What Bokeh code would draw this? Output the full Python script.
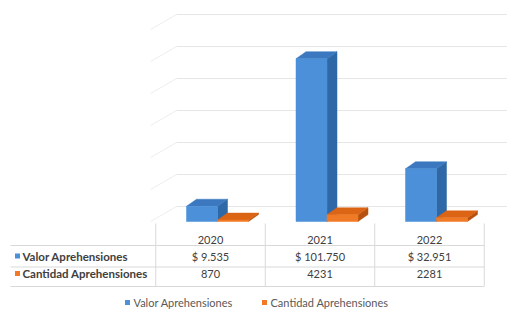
from bokeh.plotting import figure
from bokeh.models import Range1d
from bokeh.embed import file_html
from bokeh.resources import INLINE
from bokeh.core.properties import value

# ---- data ----
years = ["2020", "2021", "2022"]
valor = [9535, 101750, 32951]
cantidad = [870, 4231, 2281]
valor_labels = ["$ 9.535", "$ 101.750", "$ 32.951"]
cantidad_labels = ["870", "4231", "2281"]
series = ["Valor Aprehensiones", "Cantidad Aprehensiones"]
grid_ticks = [0, 20000, 40000, 60000, 80000, 100000, 120000]

# ---- styles ----
BLUE_FRONT, BLUE_SIDE, BLUE_TOP = "#4B90D8", "#2F68A6", "#3B78BF"
OR_FRONT, OR_SIDE, OR_TOP = "#F07A26", "#B5520F", "#DC6415"
FONT = "Lato"
TXT = "#404040"

W, H = 507, 313
OX, OY = 0, 0  # page offset of the canvas
px_per_cat = 109.5
px_per_unit = 0.0016
cx0 = 210  # page-x of first category centre
base_y = 221  # page-y of value 0 (front)

x_start = (OX - cx0) / px_per_cat
x_end = (OX + W - cx0) / px_per_cat
y_end = (base_y - OY) / px_per_unit
y_start = -(OY + H - base_y) / px_per_unit

p = figure(width=W, height=H, output_backend="svg", toolbar_location=None,
           x_range=Range1d(x_start, x_end), y_range=Range1d(y_start, y_end),
           min_border=0, outline_line_color=None)
p.axis.visible = False
p.grid.visible = False
p.background_fill_color = "white"
p.border_fill_color = "white"
p.extra_x_ranges = {"px": Range1d(OX, OX + W)}
p.extra_y_ranges = {"py": Range1d(OY + H, OY)}

# depth offsets
dx_bar = 10 / px_per_cat
dy_bar = 7 / px_per_unit
wall_dx = 26 / px_per_cat
wall_dy = 15 / px_per_unit
wall_left = (176 - cx0) / px_per_cat

# back-wall gridlines and side-wall lines
gy = [t + wall_dy for t in grid_ticks]
p.segment(x0=[wall_left] * len(gy), y0=gy, x1=[x_end] * len(gy), y1=gy,
          line_color="#E6E6E6", line_width=1)
p.segment(x0=[wall_left - wall_dx] * len(gy), y0=grid_ticks,
          x1=[wall_left] * len(gy), y1=gy, line_color="#EEEEEE", line_width=1)

# 3D bars
blue_l, blue_r = -24 / px_per_cat, 7 / px_per_cat
or_l, or_r = 7 / px_per_cat, 38 / px_per_cat


def bar3d(i, v, l, r, front, side, top):
    xl, xr = i + l, i + r
    p.patch([xr, xr + dx_bar, xr + dx_bar, xr], [0, dy_bar, v + dy_bar, v],
            fill_color=side, line_color=side, line_width=0.5)
    p.patch([xl, xr, xr + dx_bar, xl + dx_bar], [v, v, v + dy_bar, v + dy_bar],
            fill_color=top, line_color=top, line_width=0.5)
    p.quad(left=[xl], right=[xr], bottom=[0], top=[v],
           fill_color=front, line_color=front, line_width=0.5)


for i, v in enumerate(valor):
    bar3d(i, v, blue_l, blue_r, BLUE_FRONT, BLUE_SIDE, BLUE_TOP)
for i, v in enumerate(cantidad):
    bar3d(i, v, or_l, or_r, OR_FRONT, OR_SIDE, OR_TOP)

# ---- data table ----
idx = list(range(len(years)))
LINE = "#D9D9D9"
vx = [k - 0.5 for k in range(len(years) + 1)]
p.segment(x0=vx, x1=vx, y0=[223] * len(vx), y1=[286] * len(vx),
          line_color=LINE, y_range_name="py")
right_edge = len(years) - 0.5
p.segment(x0=[10] * 3, x1=[cx0 + right_edge * px_per_cat] * 3,
          y0=[245, 266.5, 286], y1=[245, 266.5, 286],
          line_color=LINE, x_range_name="px", y_range_name="py")

p.text(x=idx, y=[239] * 3, text=years, text_align="center", text_baseline="middle",
       text_font=value(FONT), text_font_size="11px", text_color=TXT, y_range_name="py")
p.text(x=idx, y=[255.5] * 3, text=valor_labels, text_align="center", text_baseline="middle",
       text_font=value(FONT), text_font_size="11px", text_color=TXT, y_range_name="py")
p.text(x=idx, y=[273] * 3, text=cantidad_labels, text_align="center", text_baseline="middle",
       text_font=value(FONT), text_font_size="11px", text_color=TXT, y_range_name="py")

p.scatter(x=[17, 17], y=[255.5, 273], marker="square", size=5,
          fill_color=[BLUE_FRONT, OR_FRONT], line_color=None,
          x_range_name="px", y_range_name="py")
p.text(x=[22, 22], y=[255.5, 273], text=series, text_align="left", text_baseline="middle",
       text_font=value(FONT), text_font_size="11.5px", text_font_style="bold",
       text_color=TXT, x_range_name="px", y_range_name="py")

# ---- legend ----
p.scatter(x=[127, 264], y=[302, 302], marker="square", size=5,
          fill_color=[BLUE_FRONT, OR_FRONT], line_color=None,
          x_range_name="px", y_range_name="py")
p.text(x=[133, 270], y=[302, 302], text=series, text_align="left", text_baseline="middle",
       text_font=value(FONT), text_font_size="11px", text_color="#595959",
       x_range_name="px", y_range_name="py")

open("out.html", "w").write(file_html(p, INLINE))
